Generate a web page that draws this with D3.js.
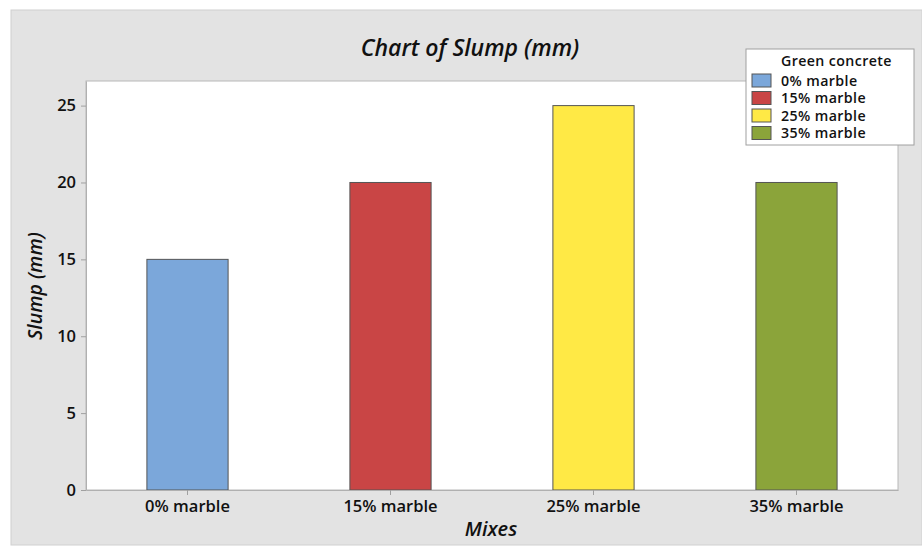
<!DOCTYPE html>
<html><head><meta charset="utf-8">
<script src="https://cdn.jsdelivr.net/npm/d3@7"></script>
<style>body{margin:0;background:#fff;}svg{display:block;font-family:"Open Sans","Noto Sans",sans-serif;}</style>
</head><body>
<script>
const categories = ["0% marble","15% marble","25% marble","35% marble"];
const values = [15,20,25,20];
const colors = ["#7BA7DA","#C94545","#FFE945","#8BA43A"];
const yTicks = [0,5,10,15,20,25];
const W=922,H=547;
const svg=d3.select("body").append("svg").attr("width",W).attr("height",H);
svg.append("rect").attr("x",11).attr("y",10).attr("width",W-11).attr("height",535).attr("fill","#e3e3e3").attr("stroke","#d0d0d0");
const L=86,R=898,T=81,B=490;
svg.append("rect").attr("x",L).attr("y",T).attr("width",R-L).attr("height",B-T).attr("fill","#fff").attr("stroke","#b8b8b8");
const x=d3.scaleBand().domain(categories).range([L,R]).paddingInner(0.6).paddingOuter(0.3);
const y=d3.scaleLinear().domain([0,26.6]).range([B,T]);
svg.selectAll(".bar").data(values).enter().append("rect")
 .attr("x",(d,i)=>x(categories[i])).attr("width",x.bandwidth())
 .attr("y",d=>y(d)).attr("height",d=>y(0)-y(d))
 .attr("fill",(d,i)=>colors[i]).attr("stroke","#555").attr("stroke-width",1);
const ya=svg.append("g").attr("transform",`translate(${L},0)`).call(d3.axisLeft(y).tickValues(yTicks).tickSize(5).tickSizeOuter(0).tickPadding(5));
const xa=svg.append("g").attr("transform",`translate(0,${B})`).call(d3.axisBottom(x).tickSize(5).tickSizeOuter(0).tickPadding(5));
[ya,xa].forEach(a=>{a.select(".domain").attr("stroke","#b0b0b0");a.selectAll(".tick line").attr("stroke","#a0a0a0");
 a.selectAll("text").attr("fill","#111").style("font-size","16.5px").style("font-weight","600").style("font-family","'Open Sans',sans-serif");});
svg.append("text").attr("x",470).attr("y",56).attr("text-anchor","middle").style("font-size","23px").style("font-style","italic").style("font-weight","600").attr("fill","#111").text("Chart of Slump (mm)");
svg.append("text").attr("x",491).attr("y",536).attr("text-anchor","middle").style("font-size","20px").style("font-style","italic").style("font-weight","600").attr("fill","#111").text("Mixes");
svg.append("text").attr("transform","translate(42,286) rotate(-90)").attr("text-anchor","middle").style("font-size","19.5px").style("font-style","italic").style("font-weight","600").attr("fill","#111").text("Slump (mm)");
const lg=svg.append("g");
lg.append("rect").attr("x",746).attr("y",49).attr("width",168).attr("height",96).attr("fill","#fff").attr("stroke","#a0a0a0");
lg.append("text").attr("x",781).attr("y",66).style("font-size","14.2px").style("letter-spacing","0.4px").style("font-weight","600").attr("fill","#111").text("Green concrete");
categories.forEach((c,i)=>{
 const yy=74+i*17.5;
 lg.append("rect").attr("x",752).attr("y",yy).attr("width",19).attr("height",13).attr("fill",colors[i]).attr("stroke","#555");
 lg.append("text").attr("x",781).attr("y",yy+11.5).style("font-size","14.2px").style("letter-spacing","0.4px").style("font-weight","600").attr("fill","#111").text(c);
});
</script>
</body></html>
